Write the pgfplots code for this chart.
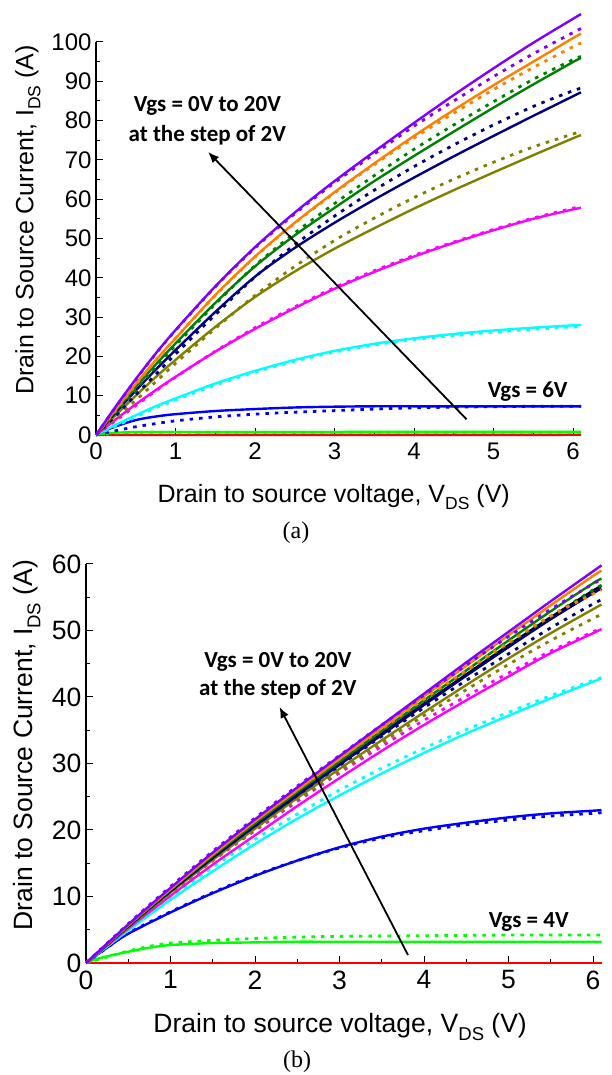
\documentclass[border=0pt]{standalone}
\usepackage{fontspec}
\setmainfont{Liberation Sans}
\newfontfamily\calibri{Carlito}
\newfontfamily\timesfont{Liberation Serif}
\usepackage{pgfplots}
\pgfplotsset{compat=1.18}
\usetikzlibrary{arrows.meta}

\definecolor{cRed}{RGB}{255,0,0}
\definecolor{cGreen}{RGB}{0,255,0}
\definecolor{cBlue}{RGB}{0,0,255}
\definecolor{cCyan}{RGB}{0,255,255}
\definecolor{cMagenta}{RGB}{255,0,255}
\definecolor{cOlive}{RGB}{128,128,0}
\definecolor{cNavy}{RGB}{0,0,128}
\definecolor{cDkGreen}{RGB}{0,128,0}
\definecolor{cOrange}{RGB}{255,128,0}
\definecolor{cViolet}{RGB}{128,0,255}

\newcommand{\sub}[1]{\raisebox{-0.28em}{\scalebox{0.7}{#1}}}

\pgfplotsset{
  ivstyle/.style={
    scale only axis, clip=false,
    axis x line*=bottom, axis y line*=left,
    axis line style={line width=1.3pt, black},
    tick align=inside,
    major tick length=6.5pt, minor tick length=3.5pt,
    tick style={line width=1pt, black},
    xmin=0, xmax=6.1, xtick={0,...,6}, minor x tick num=1,
    ymin=0, minor y tick num=1,
    xticklabel style={yshift=-4pt},
    yticklabel style={xshift=-1pt},
    /pgf/number format/assume math mode=true,
  },
  sol/.style={line width=2.4pt, no marks, smooth},
  dot/.style={line width=2.8pt, dash pattern=on 3.5pt off 6pt, no marks, smooth},
}

\begin{document}
\begin{tikzpicture}
\useasboundingbox (0,0) rectangle (612pt,1075pt);

% ---------------- (a) ----------------
\begin{axis}[ivstyle,
  at={(96pt,640pt)}, anchor=south west,
  width=485pt, height=393pt,
  ymax=100, ytick={0,10,...,100},
  tick label style={font=\fontsize{24}{24}\selectfont},
  xlabel={Drain to source voltage, V\sub{DS} (V)},
  ylabel={Drain to Source Current, I\sub{DS} (A)},
  label style={font=\fontsize{25}{25}\selectfont},
  xlabel style={at={(axis description cs:0.49,-0.171)}, anchor=base},
  ylabel style={at={(axis description cs:-0.129,0.547)}, anchor=base},
]
\addplot[sol, cRed] coordinates {(0,0)(6.1,0.05)};
\addplot[sol, cGreen] coordinates {(0,0)(0.1,0.4)(0.25,0.6)(0.5,0.7)(1,0.75)(6.1,0.8)};
\addplot[dot, cGreen] coordinates {(0,0)(0.25,0.5)(0.5,0.6)(1,0.7)(6.1,0.7)};
\addplot[sol, cBlue] coordinates {(0,0)(0.1,1.0)(0.25,2.2)(0.5,3.8)(0.75,4.7)(1,5.3)(1.5,6.1)(2,6.6)(2.5,7.0)(3,7.2)(3.5,7.3)(4,7.3)(5,7.3)(6.1,7.3)};
\addplot[dot, cBlue] coordinates {(0,0)(0.25,1.1)(0.5,2.1)(0.75,2.9)(1,3.6)(1.5,4.6)(2,5.3)(2.5,5.8)(3,6.2)(3.5,6.6)(4,6.9)(4.5,7.1)(5,7.2)(5.5,7.3)(6.1,7.3)};
\addplot[sol, cCyan] coordinates {(0,0)(0.25,2.6)(0.5,5.0)(0.75,7.3)(1,9.3)(1.5,13.1)(2,16.3)(2.5,19.1)(3,21.4)(3.5,23.2)(4,24.6)(4.5,25.7)(5,26.6)(5.5,27.3)(6,27.9)(6.1,28.0)};
\addplot[dot, cCyan] coordinates {(0,0)(0.25,2.3)(0.5,4.6)(0.75,6.9)(1,8.9)(1.5,12.7)(2,16.0)(2.5,18.8)(3,21.1)(3.5,22.9)(4,24.3)(4.5,25.3)(5,26.2)(5.5,26.9)(6,27.5)(6.1,27.6)};
\addplot[sol, cMagenta] coordinates {(0,0)(0.25,4.0)(0.5,7.8)(0.75,11.4)(1,14.8)(1.5,21.2)(2,27.0)(2.5,32.3)(3,37.2)(3.5,41.5)(4,45.4)(4.5,48.9)(5,52.1)(5.5,55.0)(6,57.4)(6.1,57.8)};
\addplot[dot, cMagenta] coordinates {(0,0)(0.25,3.7)(0.5,7.5)(0.75,11.2)(1,14.7)(1.5,21.3)(2,27.3)(2.5,32.6)(3,37.5)(3.5,41.8)(4,45.7)(4.5,49.1)(5,52.3)(5.5,55.2)(6,57.7)(6.1,58.1)};
\addplot[sol, cOlive] coordinates {(0,0)(0.25,5.1)(0.5,10.0)(0.75,14.7)(1,19.1)(1.5,27.5)(2,35.1)(2.5,41.6)(3,47.4)(3.5,52.6)(4,57.6)(4.5,62.3)(5,66.8)(5.5,71.2)(6,75.5)(6.1,76.3)};
\addplot[dot, cOlive] coordinates {(0,0)(0.25,4.3)(0.5,8.8)(0.75,13.5)(1,18.2)(1.5,27.1)(2,35.5)(2.5,42.9)(3,49.5)(3.5,55.2)(4,60.4)(4.5,65.1)(5,69.4)(5.5,73.3)(6,76.6)(6.1,77.2)};
\addplot[sol, cNavy] coordinates {(0,0)(0.25,5.8)(0.5,11.3)(0.75,16.6)(1,21.6)(1.5,31.3)(2,40.3)(2.5,47.6)(3,54.0)(3.5,59.9)(4,65.5)(4.5,70.9)(5,76.1)(5.5,81.2)(6,86.2)(6.1,87.2)};
\addplot[dot, cNavy] coordinates {(0,0)(0.25,5.0)(0.5,10.2)(0.75,15.4)(1,20.6)(1.5,30.6)(2,40.2)(2.5,48.4)(3,55.7)(3.5,62.3)(4,68.3)(4.5,73.8)(5,78.9)(5.5,83.6)(6,87.6)(6.1,88.2)};
\addplot[sol, cDkGreen] coordinates {(0,0)(0.25,6.2)(0.5,12.2)(0.75,17.9)(1,23.3)(1.5,33.6)(2,42.9)(2.5,50.8)(3,57.8)(3.5,64.6)(4,71.0)(4.5,77.2)(5,83.3)(5.5,89.2)(6,94.9)(6.1,95.9)};
\addplot[dot, cDkGreen] coordinates {(0,0)(0.25,5.8)(0.5,11.6)(0.75,17.3)(1,22.8)(1.5,33.3)(2,43.1)(2.5,51.4)(3,58.9)(3.5,66.0)(4,72.7)(4.5,78.9)(5,84.8)(5.5,90.5)(6,95.5)(6.1,96.3)};
\addplot[sol, cOrange] coordinates {(0,0)(0.25,6.6)(0.5,13.0)(0.75,19.0)(1,24.6)(1.5,35.6)(2,45.4)(2.5,54.0)(3,61.8)(3.5,69.1)(4,76.1)(4.5,82.7)(5,89.0)(5.5,95.0)(6,101.0)(6.1,102.1)};
\addplot[dot, cOrange] coordinates {(0,0)(0.25,6.4)(0.5,12.8)(0.75,18.9)(1,24.6)(1.5,35.5)(2,45.3)(2.5,53.9)(3,61.6)(3.5,68.8)(4,75.6)(4.5,81.9)(5,87.9)(5.5,93.5)(6,98.8)(6.1,99.7)};
\addplot[sol, cViolet] coordinates {(0,0)(0.25,7.3)(0.5,14.2)(0.75,20.7)(1,26.7)(1.5,37.8)(2,47.8)(2.5,56.6)(3,64.6)(3.5,72.1)(4,79.4)(4.5,86.5)(5,93.3)(5.5,99.8)(6,105.9)(6.1,107.1)};
\addplot[dot, cViolet] coordinates {(0,0)(0.25,7.2)(0.5,14.1)(0.75,20.6)(1,26.6)(1.5,37.7)(2,47.6)(2.5,56.3)(3,64.2)(3.5,71.5)(4,78.6)(4.5,85.0)(5,91.2)(5.5,97.0)(6,102.4)(6.1,103.4)};

\draw[line width=1.8pt, -{Latex[length=11pt,width=9pt]}] (axis cs:4.66,4.0) -- (axis cs:1.41,72.0);
\node[anchor=base, font=\calibri\bfseries\fontsize{23}{23}\selectfont] at (axis cs:1.40,82.3) {Vgs = 0V to 20V};
\node[anchor=base, font=\calibri\bfseries\fontsize{23}{23}\selectfont] at (axis cs:1.40,74.8) {at the step of 2V};
\node[anchor=base, font=\calibri\bfseries\fontsize{23}{23}\selectfont] at (axis cs:5.43,9.5) {Vgs = 6V};
\end{axis}

\node[font=\timesfont\fontsize{24}{24}\selectfont] at (296pt,542pt) {(a)};

% ---------------- (b) ----------------
\begin{axis}[ivstyle,
  at={(86pt,112pt)}, anchor=south west,
  width=515.5pt, height=399pt,
  ymax=60, ytick={0,10,...,60},
  tick label style={font=\fontsize{26.5}{26.5}\selectfont},
  xlabel={Drain to source voltage, V\sub{DS} (V)},
  ylabel={Drain to Source Current, I\sub{DS} (A)},
  label style={font=\fontsize{26.5}{26.5}\selectfont},
  xlabel style={at={(axis description cs:0.493,-0.175)}, anchor=base},
  ylabel style={at={(axis description cs:-0.103,0.546)}, anchor=base},
]
\addplot[sol, cRed] coordinates {(0,0)(6.1,0)};
\addplot[sol, cGreen] coordinates {(0,0)(0.1,0.5)(0.25,1.0)(0.5,1.7)(0.75,2.3)(1,2.7)(1.5,3.0)(2,3.1)(2.5,3.2)(3,3.2)(6.1,3.2)};
\addplot[dot, cGreen] coordinates {(0,0)(0.25,0.9)(0.5,1.8)(0.75,2.5)(1,3.0)(1.5,3.4)(2,3.7)(2.5,3.9)(3,4.0)(4,4.1)(5,4.2)(6.1,4.2)};
\addplot[sol, cBlue] coordinates {(0,0)(0.25,2.3)(0.5,4.4)(1,7.6)(1.5,10.5)(2,13.1)(2.5,15.4)(3,17.4)(3.5,19.0)(4,20.2)(4.5,21.1)(5,21.9)(5.5,22.5)(6,22.9)(6.1,23.0)};
\addplot[dot, cBlue] coordinates {(0,0)(0.25,2.3)(0.5,4.5)(1,7.7)(1.5,10.6)(2,13.2)(2.5,15.4)(3,17.3)(3.5,18.8)(4,19.9)(4.5,20.8)(5,21.5)(5.5,22.1)(6,22.5)(6.1,22.6)};
\addplot[sol, cCyan] coordinates {(0,0)(0.5,4.9)(1,9.5)(1.5,13.8)(2,17.9)(2.5,21.7)(3,25.2)(3.5,28.5)(4,31.6)(4.5,34.5)(5,37.2)(5.5,39.8)(6,42.3)(6.1,42.8)};
\addplot[dot, cCyan] coordinates {(0,0)(0.5,5.1)(1,9.9)(1.5,14.4)(2,18.6)(2.5,22.4)(3,26.0)(3.5,29.3)(4,32.3)(4.5,35.1)(5,37.7)(5.5,40.2)(6,42.5)(6.1,42.9)};
\addplot[sol, cMagenta] coordinates {(0,0)(0.5,5.2)(1,10.1)(1.5,14.8)(2,19.2)(2.5,23.6)(3,27.8)(3.5,31.9)(4,35.8)(4.5,39.5)(5,43.1)(5.5,46.6)(6,49.6)(6.1,50.2)};
\addplot[dot, cMagenta] coordinates {(0,0)(0.5,5.4)(1,10.5)(1.5,15.4)(2,19.9)(2.5,24.3)(3,28.6)(3.5,32.6)(4,36.5)(4.5,40.1)(5,43.6)(5.5,46.9)(6,49.8)(6.1,50.3)};
\addplot[sol, black] coordinates {(0,0)(0.5,5.6)(1,10.9)(1.5,16.0)(2,20.8)(2.5,25.4)(3,30.0)(3.5,34.5)(4,39.0)(4.5,43.4)(5,47.8)(5.5,52.0)(6,56.0)(6.1,56.7)};
\addplot[sol, cOlive] coordinates {(0,0)(0.5,5.4)(1,10.6)(1.5,15.5)(2,20.2)(2.5,24.8)(3,29.2)(3.5,33.5)(4,37.7)(4.5,41.8)(5,45.8)(5.5,49.6)(6,53.2)(6.1,53.9)};
\addplot[dot, cOlive] coordinates {(0,0)(0.5,5.3)(1,10.5)(1.5,15.4)(2,20.1)(2.5,24.6)(3,28.9)(3.5,33.1)(4,37.2)(4.5,41.1)(5,44.9)(5.5,48.5)(6,51.8)(6.1,52.4)};
\addplot[sol, cNavy] coordinates {(0,0)(0.5,5.5)(1,10.8)(1.5,15.8)(2,20.6)(2.5,25.2)(3,29.8)(3.5,34.3)(4,38.8)(4.5,43.2)(5,47.5)(5.5,51.7)(6,55.6)(6.1,56.3)};
\addplot[dot, cNavy] coordinates {(0,0)(0.5,5.5)(1,10.8)(1.5,15.8)(2,20.6)(2.5,25.2)(3,29.7)(3.5,34.1)(4,38.4)(4.5,42.5)(5,46.5)(5.5,50.4)(6,54.0)(6.1,54.6)};
\addplot[sol, cDkGreen] coordinates {(0,0)(0.5,5.6)(1,11.0)(1.5,16.1)(2,21.0)(2.5,25.7)(3,30.3)(3.5,34.9)(4,39.5)(4.5,44.0)(5,48.5)(5.5,52.9)(6,57.1)(6.1,57.8)};
\addplot[dot, cDkGreen] coordinates {(0,0)(0.5,5.6)(1,11.0)(1.5,16.2)(2,21.1)(2.5,25.8)(3,30.4)(3.5,34.9)(4,39.4)(4.5,43.8)(5,48.0)(5.5,52.1)(6,56.1)(6.1,56.8)};
\addplot[sol, cOrange] coordinates {(0,0)(0.5,5.7)(1,11.1)(1.5,16.3)(2,21.3)(2.5,26.0)(3,30.7)(3.5,35.4)(4,40.1)(4.5,44.7)(5,49.3)(5.5,53.8)(6,58.2)(6.1,59.0)};
\addplot[dot, cOrange] coordinates {(0,0)(0.5,5.7)(1,11.2)(1.5,16.4)(2,21.4)(2.5,26.1)(3,30.7)(3.5,35.2)(4,39.7)(4.5,44.0)(5,48.2)(5.5,52.2)(6,55.5)(6.1,56.1)};
\addplot[sol, cViolet] coordinates {(0,0)(0.5,5.8)(1,11.3)(1.5,16.6)(2,21.6)(2.5,26.4)(3,31.1)(3.5,35.8)(4,40.5)(4.5,45.2)(5,49.8)(5.5,54.4)(6,58.9)(6.1,59.8)};
\addplot[dot, cViolet] coordinates {(0,0)(0.5,5.9)(1,11.5)(1.5,16.8)(2,21.8)(2.5,26.6)(3,31.2)(3.5,35.8)(4,40.3)(4.5,44.8)(5,49.1)(5.5,53.2)(6,57.0)(6.1,57.7)};

\draw[line width=1.8pt, -{Latex[length=11pt,width=9pt]}] (axis cs:3.81,1.2) -- (axis cs:2.29,38.5);
\node[anchor=base, font=\calibri\bfseries\fontsize{23}{23}\selectfont] at (axis cs:2.27,44.4) {Vgs = 0V to 20V};
\node[anchor=base, font=\calibri\bfseries\fontsize{23}{23}\selectfont] at (axis cs:2.27,40.2) {at the step of 2V};
\node[anchor=base, font=\calibri\bfseries\fontsize{23}{23}\selectfont] at (axis cs:5.24,5.3) {Vgs = 4V};
\end{axis}

\node[font=\timesfont\fontsize{24}{24}\selectfont] at (297pt,13pt) {(b)};
\end{tikzpicture}
\end{document}
